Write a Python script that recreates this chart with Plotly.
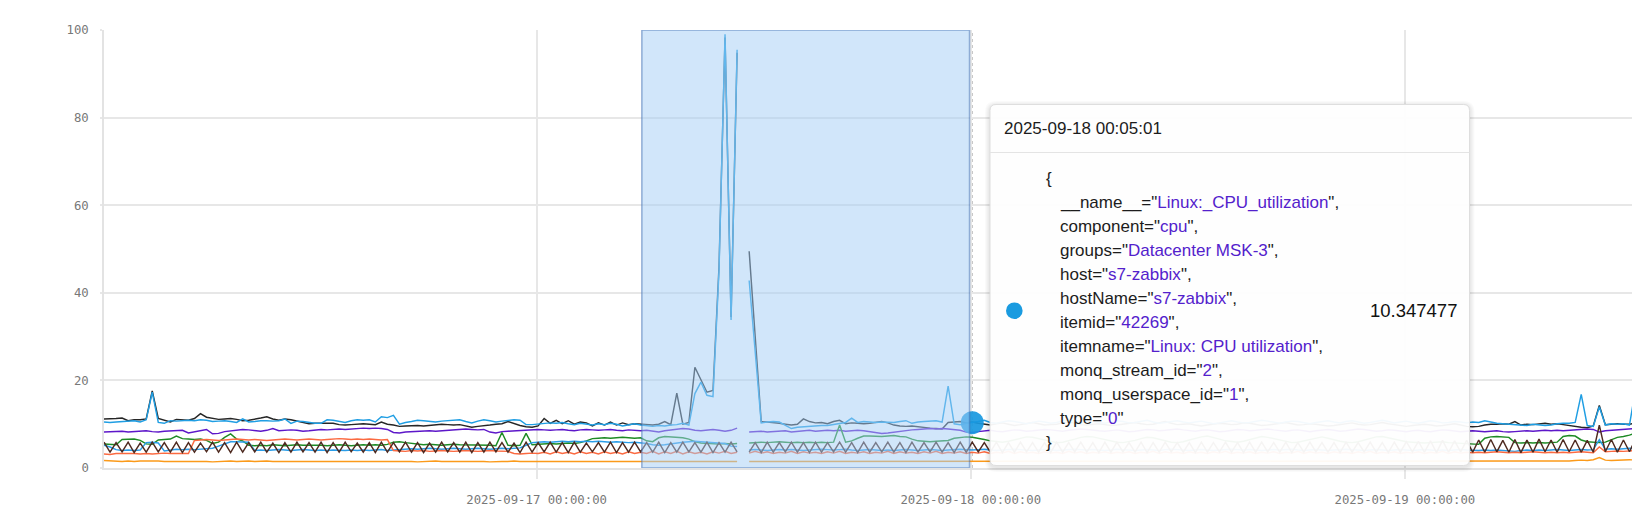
import plotly.graph_objects as go
from datetime import datetime, timedelta

# ---------------- data ----------------
START = datetime(2025, 9, 16, 0, 5, 1)
STEP_MINUTES = 20
N_POINTS = 256
times = [START + timedelta(minutes=STEP_MINUTES * i) for i in range(N_POINTS)]

X_TICKS = ["2025-09-17 00:00:00", "2025-09-18 00:00:00", "2025-09-19 00:00:00"]
X_TICK_TEXT = ["2025-09-17 00:00:00", "2025-09-18 00:00:00", "2025-09-19 00:00:00"]
Y_TICKS = [0, 20, 40, 60, 80, 100]

s_black = [
    11.2, 11.2, 11.3, 11.4, 10.8, 11.0, 11.0, 11.2, 17.6, 11.3, 10.9, 10.5,
    11.1, 11.0, 10.9, 11.3, 12.4, 11.6, 11.3, 11.1, 11.2, 11.3, 11.1, 10.8,
    10.9, 11.1, 11.4, 11.7, 11.2, 10.9, 11.2, 11.0, 10.7, 10.4, 10.1, 10.2,
    10.2, 10.3, 10.2, 9.9, 9.8, 9.9, 10.0, 10.1, 10.0, 9.9, 10.5, 10.0,
    9.8, 9.5, 9.6, 9.7, 9.7, 9.6, 9.7, 9.8, 10.0, 9.9, 9.8, 9.9,
    9.6, 9.3, 9.5, 9.6, 9.8, 10.0, 10.1, 10.6, 10.1, 9.7, 9.4, 9.3,
    9.6, 11.3, 10.2, 10.9, 10.1, 10.8, 10.0, 10.5, 10.3, 9.6, 10.3, 9.8,
    10.5, 9.8, 10.3, 9.9, 10.1, 10.0, 10.0, 9.8, 10.0, 10.6, 9.9, 17.1,
    10.0, 10.4, 23.0, 20.0, 17.3, 17.7, 46.0, 98.3, 34.5, 94.8, None, 49.5,
    30.0, 10.6, 10.5, 10.4, 10.2, 10.0, 9.8, 10.0, 11.2, 10.6, 10.3, 10.4,
    10.1, 10.6, 10.9, 10.1, 10.3, 10.2, 10.1, 10.2, 10.4, 10.6, 10.3, 9.8,
    9.6, 9.5, 9.6, 9.4, 9.2, 9.1, 9.0, 8.9, 10.4, 10.5, 10.6, 10.3,
    10.5, 10.2, 10.0, 9.8, 10.1, 10.3, 10.0, 9.7, 9.9, 10.2, 10.4, 10.1,
    9.8, 9.9, 10.0, 10.3, 10.5, 10.2, 9.9, 9.8, 10.0, 10.1, 9.9, 9.7,
    9.8, 10.0, 10.2, 10.4, 10.1, 9.9, 10.0, 10.3, 10.6, 10.2, 9.9, 10.0,
    10.1, 9.8, 9.6, 9.8, 10.0, 10.2, 10.1, 9.9, 10.0, 10.3, 10.2, 9.9,
    9.7, 9.8, 10.0, 10.2, 10.4, 10.1, 9.8, 9.9, 10.1, 10.0, 9.8, 9.6,
    9.7, 9.9, 10.1, 10.3, 10.0, 9.8, 9.9, 10.2, 10.4, 10.1, 9.9, 9.6,
    9.5, 9.7, 9.9, 10.0, 9.8, 9.6, 9.7, 9.9, 10.1, 9.8, 9.5, 9.4,
    9.5, 9.8, 10.0, 10.0, 10.1, 10.0, 10.6, 9.8, 10.0, 9.9, 10.1, 10.2,
    10.0, 10.1, 9.9, 9.7, 9.4, 9.3, 9.2, 9.6, 14.3, 9.9, 10.0, 10.1,
    10.0, 10.0, 10.2, 10.1,
]

s_blue = [
    10.5, 10.4, 10.5, 10.6, 10.7, 10.8, 10.5, 11.0, 17.3, 10.4, 10.2, 10.8,
    10.7, 10.8, 10.9, 10.8, 11.0, 10.9, 10.6, 10.7, 10.8, 10.6, 10.4, 11.2,
    10.5, 10.6, 10.8, 10.8, 10.7, 10.8, 11.2, 10.2, 10.7, 10.6, 10.4, 10.2,
    10.2, 11.0, 10.9, 10.7, 10.4, 10.8, 11.0, 10.9, 11.0, 10.5, 11.7, 11.5,
    12.0, 10.0, 10.4, 10.6, 10.9, 10.8, 10.6, 10.5, 10.7, 10.8, 10.9, 11.0,
    10.6, 10.3, 10.7, 11.0, 10.8, 10.5, 10.7, 10.8, 11.0, 10.9, 9.9, 9.9,
    10.0, 10.1, 10.3, 10.2, 10.4, 10.1, 9.9, 10.2, 10.0, 9.8, 10.1, 9.9,
    10.2, 10.0, 9.6, 9.9, 10.1, 9.8, 9.6, 9.5, 9.7, 9.6, 9.8, 9.9,
    10.2, 9.8, 17.0, 19.6, 16.6, 16.3, 45.0, 99.0, 33.8, 95.5, None, 42.8,
    26.0, 10.3, 10.5, 10.6, 10.5, 9.8, 9.0, 9.3, 9.4, 9.6, 9.6, 9.7,
    9.7, 9.9, 10.1, 10.4, 11.4, 10.4, 10.6, 10.5, 10.4, 10.5, 10.5, 10.4,
    10.6, 10.8, 10.2, 10.5, 10.6, 10.7, 10.8, 10.5, 18.7, 10.1, 9.9, 10.2,
    10.347477, 10.6, 10.9, 10.4, 10.2, 10.5, 10.8, 10.6, 10.3, 10.1, 10.4, 10.7,
    10.5, 10.2, 10.4, 10.8, 11.0, 10.6, 10.3, 10.5, 10.7, 10.4, 10.2, 10.5,
    10.8, 10.6, 10.3, 10.4, 10.7, 10.9, 10.5, 10.2, 10.4, 10.6, 10.8, 10.5,
    10.3, 10.5, 10.7, 10.4, 10.1, 10.3, 10.6, 10.8, 10.5, 10.3, 10.4, 10.6,
    10.9, 10.7, 10.4, 10.2, 10.5, 10.7, 10.6, 10.3, 10.1, 10.4, 10.6, 10.8,
    10.5, 10.3, 10.6, 10.8, 10.5, 10.2, 10.4, 10.7, 10.9, 10.6, 10.3, 10.5,
    10.7, 10.4, 10.2, 10.5, 10.8, 10.6, 10.3, 10.4, 10.6, 10.5, 10.3, 10.5,
    10.4, 10.8, 10.5, 10.2, 10.1, 10.0, 9.9, 9.8, 9.7, 10.0, 9.9, 9.7,
    9.8, 10.1, 10.2, 10.2, 10.4, 16.8, 9.7, 9.5, 14.0, 9.8, 10.1, 10.0,
    10.1, 9.8, 17.9, 10.1,
]

s_purple = [
    8.2, 8.3, 8.4, 8.4, 8.2, 8.3, 8.3, 8.5, 8.3, 8.2, 8.4, 8.5,
    8.5, 8.6, 8.0, 8.3, 8.5, 8.8, 7.8, 7.9, 8.3, 8.5, 8.6, 8.8,
    8.7, 8.6, 8.4, 8.6, 9.0, 8.5, 8.6, 8.7, 8.6, 8.4, 8.5, 8.6,
    8.8, 8.7, 8.8, 8.9, 8.8, 8.9, 9.0, 9.1, 9.0, 9.1, 9.0, 8.8,
    8.1, 8.0, 8.2, 8.3, 8.4, 8.5, 8.5, 8.4, 8.5, 8.6, 8.7, 8.8,
    8.9, 8.8, 8.7, 8.8, 8.2, 8.0, 8.3, 8.4, 8.5, 8.5, 8.6, 8.7,
    8.8, 8.7, 8.6, 8.7, 8.8, 8.6, 8.5, 8.7, 8.8, 8.7, 8.6, 8.7,
    8.8, 8.6, 8.5, 8.7, 8.6, 8.5, 8.6, 8.4, 8.2, 8.5, 8.7, 8.8,
    9.0, 8.9, 8.6, 8.5, 8.7, 8.8, 8.6, 8.4, 8.6, 9.1, None, 8.2,
    8.3, 8.4, 8.2, 8.3, 8.4, 8.5, 8.2, 8.3, 8.5, 8.6, 8.4, 8.5,
    8.6, 8.5, 8.6, 8.4, 8.5, 8.6, 8.5, 8.3, 8.1, 7.9, 8.0, 8.2,
    8.4, 8.6, 8.7, 8.8, 8.9, 9.0, 8.9, 9.0, 8.9, 8.8, 8.6, 8.2,
    8.1, 8.3, 8.5, 8.6, 8.4, 8.3, 8.5, 8.7, 8.6, 8.4, 8.5, 8.6,
    8.8, 8.7, 8.5, 8.4, 8.6, 8.7, 8.9, 8.8, 8.6, 8.5, 8.4, 8.6,
    8.7, 8.5, 8.3, 8.4, 8.6, 8.8, 8.7, 8.5, 8.6, 8.8, 8.9, 8.7,
    8.5, 8.4, 8.6, 8.7, 8.5, 8.3, 8.4, 8.6, 8.8, 8.7, 8.5, 8.6,
    8.8, 8.9, 8.7, 8.5, 8.4, 8.6, 8.7, 8.5, 8.3, 8.5, 8.7, 8.8,
    8.6, 8.4, 8.5, 8.7, 8.9, 8.8, 8.6, 8.4, 8.5, 8.7, 8.6, 8.4,
    8.3, 8.5, 8.6, 8.4, 8.3, 8.5, 8.7, 8.6, 8.4, 8.3, 8.4, 8.5,
    8.4, 8.3, 8.4, 8.5, 8.3, 8.2, 8.3, 8.4, 8.5, 8.4, 8.5, 8.6,
    8.5, 8.6, 8.5, 8.6, 8.7, 8.8, 8.9, 8.8, 8.2, 8.5, 8.6, 8.7,
    8.8, 8.9, 9.0, 9.4,
]

s_green = [
    5.5, 5.4, 5.3, 6.5, 6.6, 6.6, 6.3, 5.5, 5.4, 6.4, 6.5, 6.6,
    7.3, 6.7, 6.6, 6.5, 6.6, 6.3, 5.6, 5.9, 7.0, 7.8, 6.6, 6.2,
    5.2, 5.1, 5.2, 5.1, 5.3, 5.2, 5.1, 5.2, 5.3, 5.2, 5.2, 5.3,
    5.2, 5.1, 5.2, 5.3, 5.2, 5.1, 5.2, 5.3, 5.2, 5.3, 5.2, 5.4,
    5.9, 6.0, 5.8, 5.6, 5.4, 5.3, 5.4, 5.3, 5.2, 5.3, 5.4, 5.3,
    5.3, 5.2, 5.3, 5.3, 5.2, 5.1, 8.1, 5.2, 5.1, 5.2, 7.9, 5.3,
    5.4, 5.5, 5.6, 5.5, 5.6, 5.7, 5.6, 5.8, 6.2, 6.7, 6.8, 6.9,
    6.8, 6.9, 7.0, 6.9, 6.8, 6.9, 6.2, 6.0, 6.9, 7.2, 7.1, 7.0,
    6.9, 6.6, 6.0, 5.7, 5.6, 5.6, 5.5, 5.6, 5.5, 5.6, None, 5.7,
    5.8, 5.9, 5.8, 5.9, 6.0, 5.9, 5.8, 5.9, 5.8, 5.9, 5.8, 5.9,
    5.8, 5.9, 9.8, 5.9, 6.2, 6.8, 7.3, 7.3, 7.2, 7.2, 7.3, 7.4,
    7.2, 7.1, 6.6, 6.2, 6.1, 6.0, 6.1, 6.2, 6.3, 6.8, 7.0, 7.1,
    7.0, 6.8, 6.5, 6.2, 6.0, 5.9, 6.1, 6.4, 6.8, 7.1, 7.0, 6.7,
    6.3, 6.0, 5.8, 5.9, 6.2, 6.6, 7.0, 7.2, 7.1, 6.8, 6.4, 6.1,
    5.9, 5.8, 6.0, 6.3, 6.7, 7.0, 6.9, 6.6, 6.2, 5.9, 5.8, 6.0,
    6.4, 6.8, 7.1, 7.3, 7.0, 6.6, 6.2, 6.0, 5.9, 6.1, 6.5, 6.9,
    7.2, 7.0, 6.7, 6.3, 6.0, 5.8, 5.9, 6.2, 6.6, 6.9, 7.1, 6.8,
    6.4, 6.1, 5.9, 5.8, 6.0, 6.4, 6.8, 7.1, 7.2, 6.9, 6.5, 6.2,
    6.0, 5.9, 5.8, 5.7, 5.8, 5.9, 6.0, 5.8, 5.7, 5.6, 5.5, 5.4,
    5.4, 6.8, 7.1, 7.2, 7.1, 7.0, 5.8, 5.7, 5.8, 5.7, 5.8, 5.7,
    5.8, 5.9, 7.2, 7.4, 7.3, 6.4, 6.0, 5.9, 5.8, 5.9, 6.5, 7.0,
    7.2, 7.5, 8.0, 7.2,
]

s_blue2 = [
    5.2, 4.8, 4.2, 4.0, 4.1, 4.0, 4.1, 5.8, 5.9, 5.7, 3.9, 4.1,
    4.3, 4.2, 4.3, 4.2, 4.3, 4.3, 4.5, 5.0, 5.5, 6.0, 6.0, 5.9,
    5.9, 4.0, 4.1, 4.0, 4.1, 4.2, 4.1, 4.0, 4.1, 4.2, 4.1, 4.0,
    4.1, 4.0, 4.1, 4.0, 4.0, 4.1, 4.0, 4.1, 4.0, 4.1, 4.2, 4.0,
    4.1, 4.3, 4.4, 4.4, 4.3, 4.4, 4.5, 4.4, 4.3, 4.4, 4.5, 4.4,
    4.3, 4.4, 4.5, 4.4, 4.3, 4.4, 4.5, 4.4, 4.5, 4.6, 5.2, 5.8,
    5.9, 6.0, 5.9, 6.0, 6.1, 6.0, 6.1, 6.0, 6.1, 6.0, 6.1, 6.0,
    5.9, 6.0, 5.9, 5.8, 5.9, 5.8, 5.6, 5.3, 5.2, 5.3, 5.5, 5.8,
    5.9, 6.0, 6.1, 6.0, 5.9, 5.8, 5.7, 5.6, 5.0, 4.9, None, 4.1,
    4.2, 4.1, 4.0, 4.1, 4.2, 4.1, 4.2, 4.1, 4.0, 4.1, 4.2, 4.3,
    4.2, 4.1, 4.2, 4.3, 4.1, 4.0, 4.1, 4.2, 4.1, 4.0, 4.1, 4.0,
    4.1, 4.2, 4.1, 4.0, 4.1, 4.2, 4.1, 4.0, 4.1, 4.2, 4.3, 4.2,
    4.1, 4.2, 4.3, 4.1, 4.0, 4.1, 4.2, 4.3, 4.2, 4.1, 4.0, 4.1,
    4.2, 4.1, 4.0, 4.1, 4.2, 4.3, 4.2, 4.1, 4.2, 4.1, 4.0, 4.1,
    4.3, 4.2, 4.1, 4.0, 4.1, 4.2, 4.1, 4.0, 4.2, 4.3, 4.2, 4.1,
    4.0, 4.1, 4.2, 4.1, 4.0, 4.1, 4.2, 4.3, 4.2, 4.1, 4.2, 4.1,
    4.0, 4.1, 4.2, 4.1, 4.2, 4.3, 4.1, 4.0, 4.1, 4.2, 4.1, 4.0,
    4.1, 4.2, 4.3, 4.2, 4.1, 4.0, 4.1, 4.2, 4.1, 4.0, 4.1, 4.2,
    4.1, 4.0, 4.1, 4.2, 4.1, 4.0, 4.1, 4.0, 4.1, 4.2, 4.1, 4.0,
    4.0, 4.1, 4.0, 4.1, 4.0, 3.9, 3.8, 4.0, 4.1, 4.0, 4.1, 4.0,
    4.1, 4.2, 4.1, 4.0, 4.1, 4.2, 4.1, 4.2, 6.5, 4.3, 4.4, 4.3,
    4.4, 4.5, 4.4, 4.3,
]

s_tomato = [
    3.2, 3.1, 3.3, 3.3, 3.4, 3.3, 3.2, 3.3, 3.2, 3.3, 3.4, 3.3,
    3.3, 3.4, 3.3, 6.3, 6.4, 6.5, 6.4, 6.3, 6.4, 6.5, 6.6, 6.5,
    6.4, 6.5, 6.4, 6.3, 6.4, 6.5, 6.6, 6.5, 6.4, 6.5, 6.6, 6.5,
    6.4, 6.5, 6.6, 6.7, 6.6, 6.5, 6.6, 6.5, 6.6, 6.5, 6.4, 6.5,
    4.0, 3.9, 3.8, 4.0, 3.9, 4.0, 3.8, 3.9, 4.0, 3.9, 3.8, 3.9,
    4.0, 3.9, 3.8, 3.9, 4.0, 3.9, 3.9, 3.8, 3.3, 3.2, 3.3, 3.4,
    3.3, 3.6, 3.2, 3.7, 3.3, 3.6, 3.2, 3.7, 3.3, 3.6, 3.2, 3.7,
    3.3, 3.6, 3.2, 3.7, 3.3, 3.6, 3.3, 3.8, 3.2, 3.7, 3.3, 3.8,
    3.2, 3.7, 3.3, 3.6, 3.2, 3.7, 3.4, 3.8, 3.3, 3.6, None, 3.4,
    3.8, 3.4, 3.7, 3.3, 3.6, 3.4, 3.8, 3.3, 3.7, 3.4, 3.6, 3.3,
    3.7, 3.4, 3.8, 3.3, 3.6, 3.4, 3.7, 3.3, 3.6, 3.4, 3.8, 3.3,
    3.7, 3.4, 3.6, 3.3, 3.7, 3.4, 3.8, 3.3, 3.6, 3.4, 3.7, 3.3,
    3.6, 3.4, 3.7, 3.3, 3.6, 3.4, 3.8, 3.3, 3.7, 3.4, 3.6, 3.3,
    3.7, 3.4, 3.6, 3.3, 3.8, 3.4, 3.7, 3.3, 3.6, 3.4, 3.7, 3.3,
    3.6, 3.4, 3.7, 3.3, 3.6, 3.4, 3.8, 3.3, 3.7, 3.4, 3.6, 3.3,
    3.7, 3.4, 3.6, 3.3, 3.7, 3.4, 3.8, 3.3, 3.6, 3.4, 3.7, 3.3,
    3.6, 3.4, 3.7, 3.3, 3.6, 3.4, 3.8, 3.3, 3.7, 3.4, 3.6, 3.3,
    3.7, 3.4, 3.6, 3.3, 3.7, 3.4, 3.8, 3.3, 3.6, 3.4, 3.7, 3.3,
    3.6, 3.4, 3.7, 3.3, 3.6, 3.4, 3.8, 3.3, 3.7, 3.4, 3.6, 3.5,
    3.6, 3.5, 3.6, 3.7, 3.6, 3.5, 3.6, 3.5, 3.6, 3.7, 3.6, 3.5,
    3.6, 3.5, 3.6, 3.5, 3.6, 3.7, 3.6, 3.5, 4.8, 3.7, 3.8, 3.9,
    3.8, 3.9, 4.0, 3.9,
]

s_brown = [
    5.9, 3.6, 5.8, 3.7, 5.9, 3.5, 5.7, 3.6, 5.9, 3.7, 5.8, 3.6,
    5.9, 3.5, 5.8, 3.6, 5.7, 3.7, 5.9, 3.6, 5.8, 3.5, 5.9, 3.6,
    5.8, 3.7, 5.9, 3.6, 5.7, 3.5, 5.8, 3.6, 5.9, 3.7, 5.8, 3.6,
    5.9, 3.5, 5.8, 3.6, 5.9, 3.7, 5.7, 3.6, 5.8, 3.5, 5.9, 3.6,
    5.8, 3.7, 5.9, 3.6, 5.8, 3.5, 5.7, 3.6, 5.9, 3.7, 5.8, 3.6,
    5.9, 3.5, 5.8, 3.6, 5.9, 3.7, 5.8, 3.6, 5.7, 3.5, 5.9, 3.6,
    5.8, 3.7, 5.9, 3.6, 5.8, 3.5, 5.9, 3.6, 5.7, 3.7, 5.8, 3.6,
    5.9, 3.5, 5.8, 3.6, 5.9, 3.7, 5.8, 3.6, 5.9, 3.5, 5.8, 3.6,
    5.9, 3.7, 5.8, 3.6, 5.9, 3.5, 5.8, 3.6, 5.9, 3.7, None, 3.6,
    5.8, 3.5, 5.9, 3.6, 5.8, 3.7, 5.9, 3.6, 5.8, 3.5, 5.9, 3.6,
    5.8, 3.7, 5.9, 3.6, 5.8, 3.5, 5.9, 3.6, 5.8, 3.7, 5.9, 3.6,
    5.8, 3.5, 5.9, 3.6, 5.8, 3.7, 5.9, 3.6, 5.8, 3.5, 5.9, 3.6,
    5.9, 3.7, 5.8, 3.6, 5.9, 3.5, 5.8, 3.6, 5.9, 3.7, 5.8, 3.6,
    5.8, 3.5, 5.9, 3.6, 5.8, 3.7, 5.9, 3.6, 5.8, 3.5, 5.9, 3.6,
    5.9, 3.7, 5.8, 3.6, 5.9, 3.5, 5.8, 3.6, 5.9, 3.7, 5.8, 3.6,
    5.8, 3.5, 5.9, 3.6, 5.8, 3.7, 5.9, 3.6, 5.8, 3.5, 5.9, 3.6,
    5.9, 3.7, 5.8, 3.6, 5.9, 3.5, 5.8, 3.6, 5.9, 3.7, 5.8, 3.6,
    5.8, 3.5, 5.9, 3.6, 5.8, 3.7, 5.9, 3.6, 5.8, 3.5, 5.9, 3.6,
    6.0, 3.7, 6.1, 3.6, 6.2, 3.5, 6.3, 3.6, 6.2, 3.7, 6.3, 3.6,
    6.4, 3.6, 6.5, 3.7, 6.3, 3.6, 6.5, 3.5, 6.4, 3.6, 6.6, 3.7,
    6.4, 3.6, 6.5, 3.7, 6.4, 3.6, 6.3, 3.6, 9.8, 3.7, 6.5, 3.6,
    6.4, 3.7, 6.6, 3.6,
]

s_orange = [
    1.7, 1.6, 1.6, 1.5, 1.6, 1.5, 1.6, 1.6, 1.7, 1.6, 1.5, 1.5,
    1.6, 1.6, 1.5, 1.6, 1.6, 1.5, 1.4, 1.5, 1.6, 1.6, 1.5, 1.6,
    1.6, 1.5, 1.6, 1.6, 1.5, 1.5, 1.6, 1.6, 1.5, 1.6, 1.6, 1.5,
    1.5, 1.6, 1.6, 1.5, 1.6, 1.5, 1.5, 1.6, 1.6, 1.5, 1.6, 1.6,
    1.5, 1.5, 1.6, 1.5, 1.4, 1.5, 1.5, 1.6, 1.5, 1.5, 1.6, 1.5,
    1.5, 1.6, 1.5, 1.5, 1.4, 1.5, 1.5, 1.5, 1.6, 1.5, 1.5, 1.6,
    1.5, 1.5, 1.6, 1.5, 1.5, 1.6, 1.5, 1.5, 1.6, 1.5, 1.5, 1.5,
    1.6, 1.5, 1.5, 1.6, 1.5, 1.5, 1.5, 1.6, 1.5, 1.5, 1.6, 1.5,
    1.5, 1.5, 1.6, 1.5, 1.5, 1.6, 1.5, 1.5, 1.6, 1.5, None, 1.5,
    1.5, 1.6, 1.5, 1.5, 1.6, 1.5, 1.5, 1.6, 1.5, 1.5, 1.6, 1.5,
    1.5, 1.6, 1.5, 1.5, 1.6, 1.5, 1.5, 1.5, 1.6, 1.5, 1.5, 1.6,
    1.5, 1.5, 1.6, 1.5, 1.5, 1.6, 1.5, 1.5, 1.6, 1.5, 1.5, 1.6,
    1.5, 1.6, 1.5, 1.5, 1.6, 1.5, 1.5, 1.6, 1.5, 1.6, 1.5, 1.5,
    1.6, 1.5, 1.5, 1.6, 1.5, 1.5, 1.6, 1.5, 1.6, 1.5, 1.5, 1.6,
    1.5, 1.5, 1.6, 1.5, 1.6, 1.5, 1.5, 1.6, 1.5, 1.5, 1.6, 1.5,
    1.6, 1.5, 1.5, 1.6, 1.5, 1.6, 1.5, 1.5, 1.6, 1.5, 1.5, 1.6,
    1.5, 1.6, 1.5, 1.5, 1.6, 1.5, 1.5, 1.6, 1.5, 1.6, 1.5, 1.5,
    1.6, 1.5, 1.5, 1.6, 1.5, 1.5, 1.6, 1.5, 1.6, 1.5, 1.5, 1.6,
    1.5, 1.6, 1.5, 1.5, 1.6, 1.5, 1.5, 1.6, 1.5, 1.6, 1.5, 1.6,
    1.5, 1.6, 1.5, 1.5, 1.6, 1.5, 1.5, 1.6, 1.5, 1.6, 1.5, 1.6,
    1.6, 1.5, 1.6, 1.6, 1.7, 1.8, 1.7, 1.9, 2.4, 1.8, 1.7, 1.8,
    1.8, 1.9, 1.8, 1.9,
]

series_names = ["black", "blue", "purple", "green", "blue2", "tomato", "brown", "orange"]
series_values = [s_black, s_blue, s_purple, s_green, s_blue2, s_tomato, s_brown, s_orange]
series_colors = ["#262626", "#1f9ee3", "#5d17c9", "#1d8a24", "#2a9de8", "#fb6a41", "#4e2a20", "#fb9a1a"]

# hovered point (series "blue")
HOVER_INDEX = 144
HOVER_TIME_TEXT = "2025-09-18 00:05:01"
HOVER_VALUE_TEXT = "10.347477"
tooltip_labels = [
    ("__name__", "Linux:_CPU_utilization"),
    ("component", "cpu"),
    ("groups", "Datacenter MSK-3"),
    ("host", "s7-zabbix"),
    ("hostName", "s7-zabbix"),
    ("itemid", "42269"),
    ("itemname", "Linux: CPU utilization"),
    ("monq_stream_id", "2"),
    ("monq_userspace_id", "1"),
    ("type", "0"),
]

SELECT_START = "2025-09-17 05:49:00"
SELECT_END = "2025-09-17 23:56:00"
X_RANGE = ["2025-09-16 00:05:00", "2025-09-19 13:00:00"]

for s in series_values:
    assert len(s) == N_POINTS, len(s)

# ---------------- figure ----------------
# the page body has an 8px margin, so the figure is 8px smaller and offset
PAGE_OFF = 8
W, H = 1640 - PAGE_OFF, 518 - PAGE_OFF
ML, MR, MT, MB = 104 - PAGE_OFF, 0, 30 - PAGE_OFF, 50
PW, PH = W - ML - MR, H - MT - MB

def px(x):  # page pixel -> paper x
    return (x - PAGE_OFF - ML) / PW

def py(y):  # page pixel -> paper y
    return (MT + PH - (y - PAGE_OFF)) / PH

fig = go.Figure()
for name, vals, col in zip(series_names, series_values, series_colors):
    fig.add_trace(go.Scatter(x=times, y=vals, mode="lines", name=name,
                             line=dict(color=col, width=1.45), connectgaps=False,
                             hoverinfo="skip"))

# hover marker on the blue series
fig.add_trace(go.Scatter(x=[times[HOVER_INDEX]], y=[s_blue[HOVER_INDEX]], mode="markers",
                         marker=dict(size=23, color="rgba(24,152,224,0.92)", line=dict(width=0)),
                         hoverinfo="skip", showlegend=False))

shapes = []
shapes.append(dict(type="line", xref="x", yref="paper", x0=times[HOVER_INDEX], x1=times[HOVER_INDEX],
                   y0=0, y1=1, line=dict(color="#b5b5b5", width=1, dash="3px,3px"), layer="between"))
shapes.append(dict(type="rect", xref="x", yref="y", x0=SELECT_START, x1=SELECT_END, y0=0, y1=100,
                   fillcolor="rgba(163,205,245,0.5)",
                   line=dict(color="rgba(70,115,180,0.55)", width=1.5), layer="above"))


def rrect(x0, y0, x1, y1, r):
    pts = [
        f"M {px(x0 + r)},{py(y0)}",
        f"L {px(x1 - r)},{py(y0)}",
        f"Q {px(x1)},{py(y0)} {px(x1)},{py(y0 + r)}",
        f"L {px(x1)},{py(y1 - r)}",
        f"Q {px(x1)},{py(y1)} {px(x1 - r)},{py(y1)}",
        f"L {px(x0 + r)},{py(y1)}",
        f"Q {px(x0)},{py(y1)} {px(x0)},{py(y1 - r)}",
        f"L {px(x0)},{py(y0 + r)}",
        f"Q {px(x0)},{py(y0)} {px(x0 + r)},{py(y0)}",
        "Z",
    ]
    return " ".join(pts)

TX0, TY0, TX1, TY1 = 990, 104.5, 1469.5, 465.5
for k in (5, 4, 3, 2, 1):
    shapes.append(dict(type="path", xref="paper", yref="paper",
                       path=rrect(TX0 - k, TY0 - k + 1.5, TX1 + k, TY1 + k + 1.5, 6 + k),
                       fillcolor="rgba(0,0,0,0.018)", line=dict(width=0), layer="above"))
shapes.append(dict(type="path", xref="paper", yref="paper", path=rrect(TX0, TY0, TX1, TY1, 6),
                   fillcolor="rgba(255,255,255,0.95)", line=dict(color="#dedede", width=1), layer="above"))
shapes.append(dict(type="line", xref="paper", yref="paper", x0=px(TX0), x1=px(TX1), y0=py(152.5), y1=py(152.5),
                   line=dict(color="#e4e4e4", width=1), layer="above"))
shapes.append(dict(type="circle", xref="paper", yref="paper", x0=px(1006), x1=px(1022.6),
                   y0=py(319), y1=py(302.4), fillcolor="#1a9be0", line=dict(width=0), layer="above"))

TFONT = "Liberation Sans, Arial, Helvetica, sans-serif"
KEY_COL = "#1c1c1c"
VAL_COL = "#5321cc"
annotations = []
annotations.append(dict(x=px(1001.5), y=py(128), xref="paper", yref="paper", text=HOVER_TIME_TEXT,
                        xanchor="left", yanchor="middle", showarrow=False,
                        font=dict(family=TFONT, size=17, color=KEY_COL)))
annotations.append(dict(x=px(1044), y=py(178.5), xref="paper", yref="paper", text="{",
                        xanchor="left", yanchor="middle", showarrow=False,
                        font=dict(family=TFONT, size=17, color=KEY_COL)))
for k, (key, val) in enumerate(tooltip_labels, start=1):
    comma = "," if k < len(tooltip_labels) else ""
    txt = f'{key}="<span style="color:{VAL_COL}">{val}</span>"{comma}'
    annotations.append(dict(x=px(1057.5), y=py(178.5 + 24 * k), xref="paper", yref="paper", text=txt,
                            xanchor="left", yanchor="middle", showarrow=False,
                            font=dict(family=TFONT, size=17, color=KEY_COL)))
annotations.append(dict(x=px(1044), y=py(442.5), xref="paper", yref="paper", text="}",
                        xanchor="left", yanchor="middle", showarrow=False,
                        font=dict(family=TFONT, size=17, color=KEY_COL)))
annotations.append(dict(x=px(1458.5), y=py(310), xref="paper", yref="paper", text=HOVER_VALUE_TEXT,
                        xanchor="right", yanchor="middle", showarrow=False,
                        font=dict(family=TFONT, size=18.5, color="#111111")))

AXFONT = dict(family="DejaVu Sans Mono, monospace", size=12.3, color="#787878")
fig.update_layout(
    width=W, height=H, margin=dict(l=ML, r=MR, t=MT, b=MB),
    paper_bgcolor="white", plot_bgcolor="white", showlegend=False,
    shapes=shapes, annotations=annotations,
    xaxis=dict(type="date", range=X_RANGE, tickmode="array", tickvals=X_TICKS, ticktext=X_TICK_TEXT,
               showgrid=True, gridcolor="#e7e7e7", gridwidth=2, zeroline=False,
               showline=True, linecolor="#e3e3e3", linewidth=1.5,
               ticks="outside", ticklen=9, tickwidth=2, tickcolor="#e7e7e7",
               tickfont=AXFONT, ticklabelstandoff=10),
    yaxis=dict(range=[0, 100], tickmode="array", tickvals=Y_TICKS,
               showgrid=True, gridcolor="#e7e7e7", gridwidth=1.5, zeroline=False,
               showline=True, linecolor="#e3e3e3", linewidth=1.5,
               ticks="outside", ticklen=2, tickwidth=1.5, tickcolor="#e7e7e7",
               tickfont=AXFONT, ticklabelstandoff=9),
    hovermode=False,
)

fig.write_html("out.html", config={"displayModeBar": False})
